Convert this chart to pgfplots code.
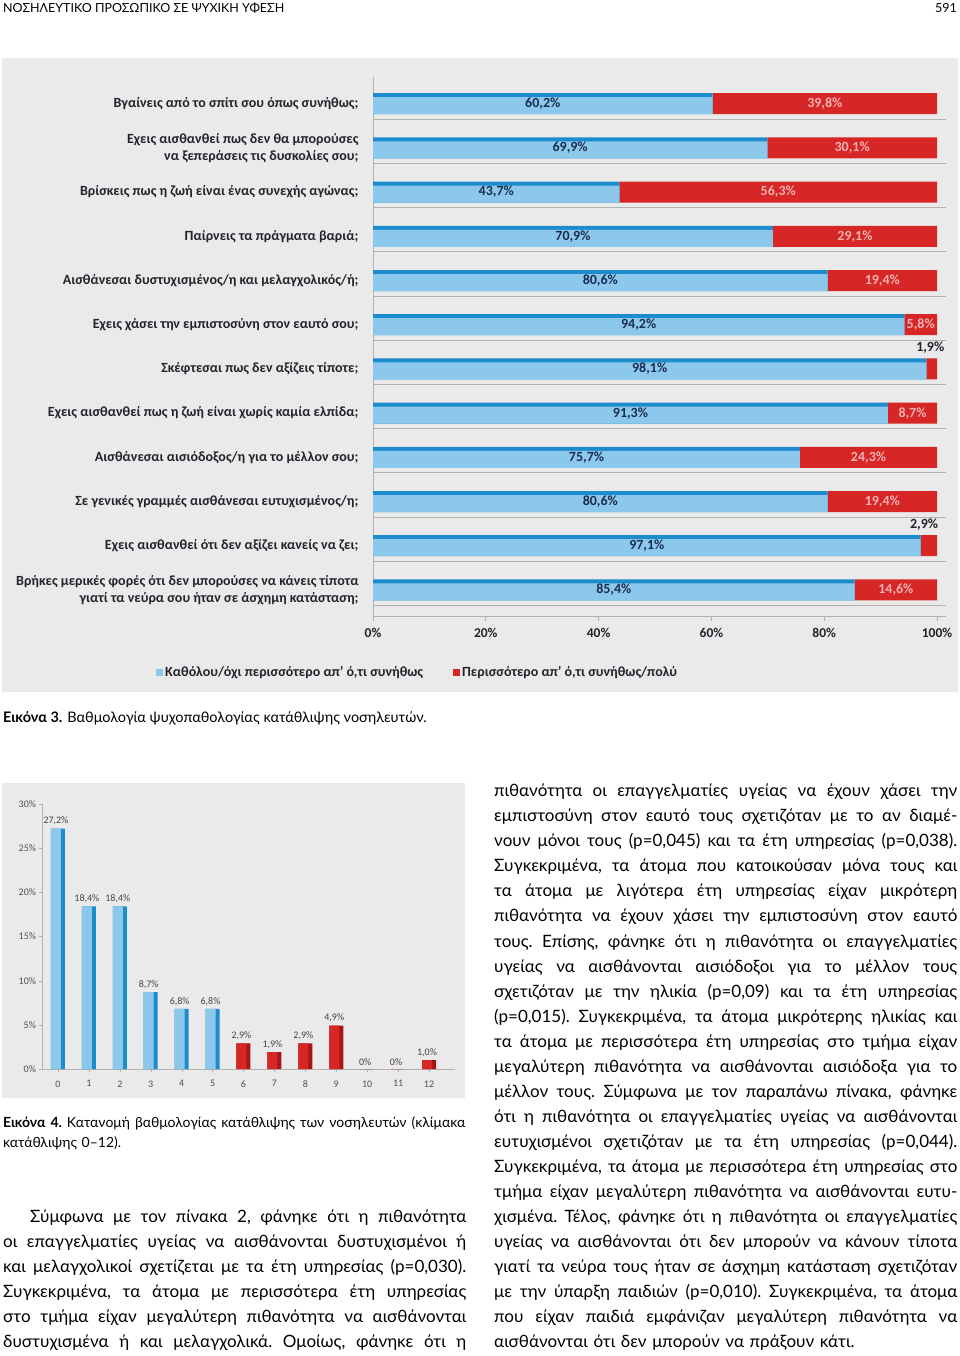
\documentclass[border=0pt]{standalone}
\usepackage{fontspec}
\setmainfont{Lato}
\newfontfamily\chartfont{Carlito}
\usepackage{pgfplots}
\usepackage{pgfplotstable}
\pgfplotsset{compat=1.18}

\definecolor{bgchart}{RGB}{234,234,234}
\definecolor{barblue}{RGB}{140,200,235}
\definecolor{bluedark}{RGB}{28,140,205}
\definecolor{barred}{RGB}{214,38,38}
\definecolor{reddark}{RGB}{165,22,22}
\definecolor{labnavy}{RGB}{25,45,80}
\definecolor{labpink}{RGB}{245,178,178}
\definecolor{catgray}{RGB}{35,35,45}
\definecolor{gridgray}{RGB}{178,178,178}

% justified lines: stretchable interword space, one hbox per line
\newcommand\jspace{\frenchspacing\spaceskip=0.25em plus 1fil minus 0.08em\xspaceskip=\spaceskip\relax}
\newcommand\jl[1]{\hbox to 463pt{\jspace\strut #1}}
\newcommand\lastline[1]{\hbox{\strut #1}}

\tikzset{
  blueval/.style={font=\chartfont\bfseries\fontsize{14}{16}\selectfont, text=labnavy},
  redval/.style={font=\chartfont\bfseries\fontsize{14}{16}\selectfont, text=labpink},
  bodytext/.style={anchor=north west, inner sep=0, text width=463pt,
    font={\fontsize{17}{25.05}\selectfont}},
}

% Figure 3: share of answers per question (row 11 = top)
\pgfplotstableread{
row no yes
11 60.2 39.8
10 69.9 30.1
9 43.7 56.3
8 70.9 29.1
7 80.6 19.4
6 94.2 5.8
5 98.1 1.9
4 91.3 8.7
3 75.7 24.3
2 80.6 19.4
1 97.1 2.9
0 85.4 14.6
}\symptoms

\pgfplotsset{
  fig3/.style={
    at={(373pt,-616pt)}, anchor=south west,
    scale only axis, width=572.5pt, height=538.8pt,
    xmin=0, xmax=101.5, ymin=-0.59, ymax=11.6,
  },
}

\begin{document}
\begin{tikzpicture}[x=1pt,y=1pt]
\useasboundingbox (0,0) rectangle (960,-1356);

% page header
\node[anchor=base west, inner sep=0, font=\fontsize{12.5}{15}\selectfont] at (3,-13) {ΝΟΣΗΛΕΥΤΙΚΟ ΠΡΟΣΩΠΙΚΟ ΣΕ ΨΥΧΙΚΗ ΥΦΕΣΗ};
\node[anchor=base east, inner sep=0, font=\fontsize{12.5}{15}\selectfont] at (957,-13) {591};

% chart backgrounds
\fill[bgchart] (2,-58) rectangle (958,-692);
\fill[bgchart] (2,-783) rectangle (465,-1098);

% Figure 3, base: stacked bars (dark blue edge + red)
\begin{axis}[
  fig3,
  xbar stacked, bar width=21pt,
  axis x line*=bottom, axis y line*=left,
  axis line style={gridgray, line width=1pt},
  xtick={0,20,...,100},
  xticklabels={0\%,20\%,40\%,60\%,80\%,100\%},
  xtick style={gridgray, line width=0.8pt},
  major tick length=5pt, tick align=outside,
  ytick={0,...,11},
  ytick style={draw=none},
  yticklabels={
    {Βρήκες μερικές φορές ότι δεν μπορούσες να κάνεις τίποτα\\γιατί τα νεύρα σου ήταν σε άσχημη κατάσταση;},
    {Εχεις αισθανθεί ότι δεν αξίζει κανείς να ζει;},
    {Σε γενικές γραμμές αισθάνεσαι ευτυχισμένος/η;},
    {Αισθάνεσαι αισιόδοξος/η για το μέλλον σου;},
    {Εχεις αισθανθεί πως η ζωή είναι χωρίς καμία ελπίδα;},
    {Σκέφτεσαι πως δεν αξίζεις τίποτε;},
    {Εχεις χάσει την εμπιστοσύνη στον εαυτό σου;},
    {Αισθάνεσαι δυστυχισμένος/η και μελαγχολικός/ή;},
    {Παίρνεις τα πράγματα βαριά;},
    {Βρίσκεις πως η ζωή είναι ένας συνεχής αγώνας;},
    {Εχεις αισθανθεί πως δεν θα μπορούσες\\να ξεπεράσεις τις δυσκολίες σου;},
    {Βγαίνεις από το σπίτι σου όπως συνήθως;}},
  yticklabel style={align=right, text=catgray, font=\chartfont\bfseries\fontsize{14}{17}\selectfont},
  yticklabel shift=6pt,
  xticklabel style={text=catgray, yshift=-4pt, font=\chartfont\bfseries\fontsize{13.5}{15}\selectfont},
  minor ytick={-0.35,0.65,...,10.65},
  yminorgrids, minor tick length=0pt,
  minor grid style={gridgray, line width=0.8pt},
  legend columns=2,
  legend style={at={(axis description cs:0.078,-0.104)}, anchor=center,
    draw=none, fill=none, text=catgray,
    font=\chartfont\bfseries\fontsize{14}{16}\selectfont,
    /tikz/every even column/.append style={column sep=28pt}},
  legend cell align=left,
]
\addplot[draw=none, fill=bluedark,
  legend image code/.code={\fill[barblue] (0pt,-3.5pt) rectangle (7pt,3.5pt);}]
  table[x=no, y=row] {\symptoms};
\addplot[draw=none, fill=barred,
  legend image code/.code={\fill[barred] (0pt,-3.5pt) rectangle (7pt,3.5pt);}]
  table[x=yes, y=row] {\symptoms};
\legend{{Καθόλου/όχι περισσότερο απ’ ό,τι συνήθως},{Περισσότερο απ’ ό,τι συνήθως/πολύ}}
\end{axis}

% Figure 3, overlay: light blue face of the bars and value labels
\begin{axis}[
  fig3, hide axis,
  xbar, bar width=17pt,
]
\addplot[draw=none, fill=barblue, bar shift=-2pt] table[x=no, y=row] {\symptoms};
\node[blueval] at (axis cs:30.1,11) {60,2\%};
\node[blueval] at (axis cs:34.95,10) {69,9\%};
\node[blueval] at (axis cs:21.85,9) {43,7\%};
\node[blueval] at (axis cs:35.45,8) {70,9\%};
\node[blueval] at (axis cs:40.3,7) {80,6\%};
\node[blueval] at (axis cs:47.1,6) {94,2\%};
\node[blueval] at (axis cs:49.05,5) {98,1\%};
\node[blueval] at (axis cs:45.65,4) {91,3\%};
\node[blueval] at (axis cs:37.85,3) {75,7\%};
\node[blueval] at (axis cs:40.3,2) {80,6\%};
\node[blueval] at (axis cs:48.55,1) {97,1\%};
\node[blueval] at (axis cs:42.7,0) {85,4\%};
\node[redval] at (axis cs:80.1,11) {39,8\%};
\node[redval] at (axis cs:84.95,10) {30,1\%};
\node[redval] at (axis cs:71.85,9) {56,3\%};
\node[redval] at (axis cs:85.45,8) {29,1\%};
\node[redval] at (axis cs:90.3,7) {19,4\%};
\node[redval] at (axis cs:97.1,6) {5,8\%};
\node[blueval, text=catgray] at (axis cs:98.8,5.48) {1,9\%};
\node[redval] at (axis cs:95.65,4) {8,7\%};
\node[redval] at (axis cs:87.85,3) {24,3\%};
\node[redval] at (axis cs:90.3,2) {19,4\%};
\node[blueval, text=catgray] at (axis cs:97.7,1.48) {2,9\%};
\node[redval] at (axis cs:92.7,0) {14,6\%};
\end{axis}

% caption of figure 3
\node[anchor=base west, inner sep=0, font=\fontsize{14.5}{17}\selectfont] at (3,-722)
  {\textbf{Εικόνα 3.} Βαθμολογία ψυχοπαθολογίας κατάθλιψης νοσηλευτών.};

% Figure 4: distribution of depression scores
\begin{axis}[
  at={(42.5pt,-1069pt)}, anchor=south west,
  scale only axis, width=412.8pt, height=265pt,
  xmin=-0.5, xmax=12.85, ymin=0, ymax=30,
  ybar, bar width=14pt,
  axis x line*=bottom, axis y line*=left,
  axis line style={gridgray, line width=0.8pt},
  xtick={0,...,12},
  xticklabels={0,1,2,3,4,5,6,7,8,9,10,11,12},
  ytick={0,5,...,30},
  yticklabels={0\%,5\%,10\%,15\%,20\%,25\%,30\%},
  tick style={gridgray}, major tick length=3pt, tick align=outside,
  ticklabel style={text=catgray!80, font=\chartfont\fontsize{10}{12}\selectfont},
  xticklabel style={yshift=-5pt},
  every node near coord/.append style={text=catgray!85, font=\chartfont\fontsize{10}{12}\selectfont},
]
% darker right side of each bar
\addplot[draw=none, fill=bluedark, bar shift=0pt]
  coordinates {(0,27.2) (1,18.4) (2,18.4) (3,8.7) (4,6.8) (5,6.8)};
\addplot[draw=none, fill=reddark, bar shift=0pt]
  coordinates {(6,2.9) (7,1.9) (8,2.9) (9,4.9) (10,0) (11,0) (12,1.0)};
% front faces with labels
\addplot[draw=none, fill=barblue, bar shift=-2pt, bar width=10pt,
  nodes near coords, point meta=explicit symbolic]
  coordinates {(0,27.2) [27,2\%] (1,18.4) [18,4\%] (2,18.4) [18,4\%]
               (3,8.7) [8,7\%] (4,6.8) [6,8\%] (5,6.8) [6,8\%]};
\addplot[draw=none, fill=barred, bar shift=-2pt, bar width=10pt,
  nodes near coords, point meta=explicit symbolic]
  coordinates {(6,2.9) [2,9\%] (7,1.9) [1,9\%] (8,2.9) [2,9\%]
               (9,4.9) [4,9\%] (10,0) [0\%] (11,0) [0\%] (12,1.0) [1,0\%]};
\end{axis}

% caption of figure 4
\node[anchor=north west, inner sep=0, text width=462pt,
      font={\fontsize{14}{20}\selectfont}] at (3,-1113)
  {\hbox to 462pt{\jspace\strut\textbf{Εικόνα 4.} Κατανομή βαθμολογίας κατάθλιψης των νοσηλευτών (κλίμακα}
   \lastline{κατάθλιψης 0–12).}};

% left column text
\node[bodytext] at (3,-1204.7)
  {\jl{\hspace*{27pt}Σύμφωνα με τον πίνακα 2, φάνηκε ότι η πιθανότητα}
   \jl{οι επαγγελματίες υγείας να αισθάνονται δυστυχισμένοι ή}
   \jl{και μελαγχολικοί σχετίζεται με τα έτη υπηρεσίας (p=0,030).}
   \jl{Συγκεκριμένα, τα άτομα με περισσότερα έτη υπηρεσίας}
   \jl{στο τμήμα είχαν μεγαλύτερη πιθανότητα να αισθάνονται}
   \jl{δυστυχισμένα ή και μελαγχολικά. Ομοίως, φάνηκε ότι η}};

% right column text
\node[bodytext] at (494,-779)
  {\jl{πιθανότητα οι επαγγελματίες υγείας να έχουν χάσει την}
   \jl{εμπιστοσύνη στον εαυτό τους σχετιζόταν με το αν διαμέ-}
   \jl{νουν μόνοι τους (p=0,045) και τα έτη υπηρεσίας (p=0,038).}
   \jl{Συγκεκριμένα, τα άτομα που κατοικούσαν μόνα τους και}
   \jl{τα άτομα με λιγότερα έτη υπηρεσίας είχαν μικρότερη}
   \jl{πιθανότητα να έχουν χάσει την εμπιστοσύνη στον εαυτό}
   \jl{τους. Επίσης, φάνηκε ότι η πιθανότητα οι επαγγελματίες}
   \jl{υγείας να αισθάνονται αισιόδοξοι για το μέλλον τους}
   \jl{σχετιζόταν με την ηλικία (p=0,09) και τα έτη υπηρεσίας}
   \jl{(p=0,015). Συγκεκριμένα, τα άτομα μικρότερης ηλικίας και}
   \jl{τα άτομα με περισσότερα έτη υπηρεσίας στο τμήμα είχαν}
   \jl{μεγαλύτερη πιθανότητα να αισθάνονται αισιόδοξα για το}
   \jl{μέλλον τους. Σύμφωνα με τον παραπάνω πίνακα, φάνηκε}
   \jl{ότι η πιθανότητα οι επαγγελματίες υγείας να αισθάνονται}
   \jl{ευτυχισμένοι σχετιζόταν με τα έτη υπηρεσίας (p=0,044).}
   \jl{Συγκεκριμένα, τα άτομα με περισσότερα έτη υπηρεσίας στο}
   \jl{τμήμα είχαν μεγαλύτερη πιθανότητα να αισθάνονται ευτυ-}
   \jl{χισμένα. Τέλος, φάνηκε ότι η πιθανότητα οι επαγγελματίες}
   \jl{υγείας να αισθάνονται ότι δεν μπορούν να κάνουν τίποτα}
   \jl{γιατί τα νεύρα τους ήταν σε άσχημη κατάσταση σχετιζόταν}
   \jl{με την ύπαρξη παιδιών (p=0,010). Συγκεκριμένα, τα άτομα}
   \jl{που είχαν παιδιά εμφάνιζαν μεγαλύτερη πιθανότητα να}
   \lastline{αισθάνονται ότι δεν μπορούν να πράξουν κάτι.}};
\end{tikzpicture}
\end{document}
